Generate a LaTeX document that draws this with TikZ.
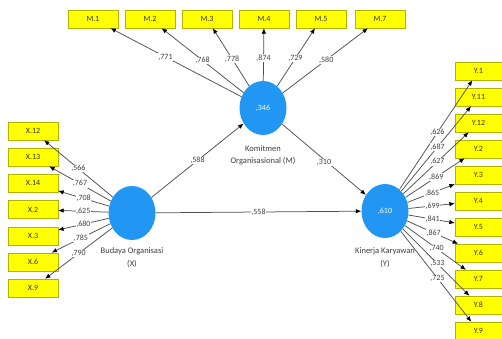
\documentclass[tikz,border=0pt]{standalone}
\usepackage{fontspec}
\setmainfont{Carlito}
\usetikzlibrary{arrows.meta,shapes.geometric}
\definecolor{lvblue}{RGB}{33,150,243}
\definecolor{indyel}{RGB}{255,255,0}
\definecolor{edgegray}{RGB}{80,80,80}
\begin{document}
\begin{tikzpicture}[x=1pt,y=-1pt,
  indbox/.style={rectangle,fill=indyel,draw=indyel!70!black,line width=0.3pt,minimum width=50pt,minimum height=18pt,inner sep=0pt,font=\fontsize{8}{9}\selectfont,text=black!80},
  ybox/.style={indbox,minimum width=47pt},
  latent/.style={ellipse,fill=lvblue,draw=none,minimum width=47pt,minimum height=54pt,inner sep=0pt,text=white,font=\fontsize{8}{9}\selectfont},
  link/.style={draw=edgegray,line width=0.75pt,-{Latex[length=5.5pt,width=4.5pt,color=black]}},
  wt/.style={fill=white,inner sep=0.6pt,font=\fontsize{8}{9}\selectfont,text=black!75},
  lvname/.style={align=center,font=\fontsize{8.5}{12.5}\selectfont,text=black!75}]
\useasboundingbox (0,0) rectangle (502,338);
\fill[white] (0,0) rectangle (502,338);

% latent variables
\node[latent] (m) at (263,108) {,346};
\node[latent] (x) at (132,213) {};
\node[latent] (y) at (385,211) {,610};
\node[lvname] (mname) at (263,155.5) {Komitmen\\Organisasional (M)};
\node[lvname] (xname) at (132,257.5) {Budaya Organisasi\\(X)};
\node[lvname] (yname) at (385,257.5) {Kinerja Karyawan\\(Y)};

% M indicators
\node[indbox] (m1) at (93,19) {M.1};
\node[indbox] (m2) at (150,19) {M.2};
\node[indbox] (m3) at (207,19) {M.3};
\node[indbox] (m4) at (264,19) {M.4};
\node[indbox] (m5) at (321,19) {M.5};
\node[indbox] (m7) at (380,19) {M.7};

% X indicators
\node[indbox] (x12) at (33,131) {X.12};
\node[indbox] (x13) at (33,157.2) {X.13};
\node[indbox] (x14) at (33,183.3) {X.14};
\node[indbox] (x2) at (33,209.5) {X.2};
\node[indbox] (x3) at (33,235.7) {X.3};
\node[indbox] (x6) at (33,261.8) {X.6};
\node[indbox] (x9) at (33,288) {X.9};

% Y indicators
\node[ybox] (y1) at (478.5,71) {Y.1};
\node[ybox] (y11) at (478.5,97) {Y.11};
\node[ybox] (y12) at (478.5,123) {Y.12};
\node[ybox] (y2) at (478.5,149) {Y.2};
\node[ybox] (y3) at (478.5,175) {Y.3};
\node[ybox] (y4) at (478.5,201) {Y.4};
\node[ybox] (y5) at (478.5,227) {Y.5};
\node[ybox] (y6) at (478.5,253) {Y.6};
\node[ybox] (y7) at (478.5,279) {Y.7};
\node[ybox] (y8) at (478.5,305) {Y.8};
\node[ybox] (y9) at (478.5,331) {Y.9};

% structural paths
\draw[link] (x) -- (m);
\draw[link] (x) -- (y);
\draw[link] (m) -- (y);

% loadings M
\draw[link] (m) -- (m1);
\draw[link] (m) -- (m2);
\draw[link] (m) -- (m3);
\draw[link] (m) -- (m4);
\draw[link] (m) -- (m5);
\draw[link] (m) -- (m7);
% loadings X
\draw[link] (x) -- (x12);
\draw[link] (x) -- (x13);
\draw[link] (x) -- (x14);
\draw[link] (x) -- (x2);
\draw[link] (x) -- (x3);
\draw[link] (x) -- (x6);
\draw[link] (x) -- (x9);
% loadings Y
\draw[link] (y) -- (y1);
\draw[link] (y) -- (y11);
\draw[link] (y) -- (y12);
\draw[link] (y) -- (y2);
\draw[link] (y) -- (y3);
\draw[link] (y) -- (y4);
\draw[link] (y) -- (y5);
\draw[link] (y) -- (y6);
\draw[link] (y) -- (y7);
\draw[link] (y) -- (y8);
\draw[link] (y) -- (y9);

% labels on paths
\path (x) -- node[wt,pos=.5] (p1) {,588} (m);
\path (x) -- node[wt,pos=.5] (p2) {,558} (y);
\path (m) -- node[wt,pos=.5,yshift=-3pt] (p3) {,310} (y);

\path (m) -- node[wt,pos=.58] {,771} (m1);
\path (m) -- node[wt,pos=.50] {,768} (m2);
\path (m) -- node[wt,pos=.47] {,778} (m3);
\path (m) -- node[wt,pos=.43] {,874} (m4);
\path (m) -- node[wt,pos=.48] {,729} (m5);
\path (m) -- node[wt,pos=.51] {,580} (m7);

\path (x) -- node[wt,pos=.5] {,566} (x12);
\path (x) -- node[wt,pos=.5] {,767} (x13);
\path (x) -- node[wt,pos=.5] {,708} (x14);
\path (x) -- node[wt,pos=.5] {,625} (x2);
\path (x) -- node[wt,pos=.5] {,680} (x3);
\path (x) -- node[wt,pos=.5] {,785} (x6);
\path (x) -- node[wt,pos=.5] {,790} (x9);

\path (y) -- node[wt,pos=.52] {,626} (y1);
\path (y) -- node[wt,pos=.52] {,687} (y11);
\path (y) -- node[wt,pos=.52] {,627} (y12);
\path (y) -- node[wt,pos=.52] {,869} (y2);
\path (y) -- node[wt,pos=.52] {,865} (y3);
\path (y) -- node[wt,pos=.52] {,699} (y4);
\path (y) -- node[wt,pos=.52] {,841} (y5);
\path (y) -- node[wt,pos=.52] {,867} (y6);
\path (y) -- node[wt,pos=.52] {,740} (y7);
\path (y) -- node[wt,pos=.52] {,533} (y8);
\path (y) -- node[wt,pos=.52] {,725} (y9);
\end{tikzpicture}
\end{document}
